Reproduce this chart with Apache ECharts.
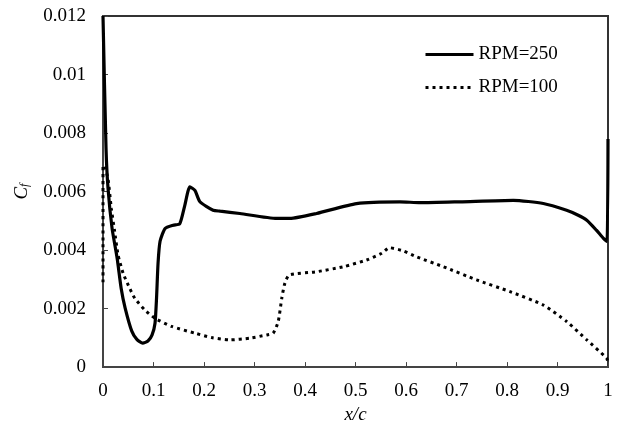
<!DOCTYPE html>
<html>
<head>
<meta charset="utf-8">
<script src="https://cdn.jsdelivr.net/npm/echarts@6/dist/echarts.min.js"></script>
<style>
html,body{margin:0;padding:0;background:#fff;}
#chart{width:619px;height:429px;}
</style>
</head>
<body>
<div id="chart"></div>
<script>
// Data (x/c, Cf)
const rpm250X = [0, 0.006, 0.010, 0.018, 0.028, 0.036, 0.044, 0.057, 0.067, 0.0786, 0.089, 0.097, 0.103, 0.106, 0.109, 0.113, 0.123, 0.139, 0.152, 0.162, 0.172, 0.182, 0.192, 0.218, 0.232, 0.271, 0.344, 0.370, 0.423, 0.502, 0.588, 0.628, 0.707, 0.8125, 0.872, 0.918, 0.940, 0.958, 0.977, 0.991, 0.998, 1.0];
const rpm250Y = [0.012, 0.00747, 0.0061, 0.00474, 0.00372, 0.00269, 0.00201, 0.00123, 0.00095, 0.00082, 0.00089, 0.00109, 0.0015, 0.00235, 0.00355, 0.0043, 0.00474, 0.00485, 0.0049, 0.00553, 0.00616, 0.00604, 0.00565, 0.00536, 0.00533, 0.00525, 0.00508, 0.00508, 0.00525, 0.00559, 0.00565, 0.00562, 0.00565, 0.0057, 0.00559, 0.00536, 0.0052, 0.00502, 0.00468, 0.0044, 0.0043, 0.0078];
const rpm100X = [0, 0, 0.004, 0.0099, 0.0165, 0.023, 0.030, 0.040, 0.050, 0.063, 0.083, 0.103, 0.136, 0.182, 0.215, 0.251, 0.291, 0.324, 0.337, 0.347, 0.354, 0.360, 0.369, 0.423, 0.476, 0.522, 0.552, 0.567, 0.595, 0.621, 0.674, 0.740, 0.806, 0.872, 0.918, 0.958, 0.997, 1.0];
const rpm100Y = [0.0029, 0.0069, 0.0068, 0.00644, 0.00542, 0.00464, 0.00382, 0.0032, 0.0028, 0.00235, 0.00195, 0.00167, 0.00139, 0.00116, 0.00101, 0.00093, 0.00099, 0.0011, 0.00116, 0.00156, 0.00235, 0.00286, 0.00315, 0.00326, 0.00343, 0.00366, 0.00389, 0.00408, 0.00397, 0.00377, 0.00343, 0.00298, 0.00258, 0.00212, 0.00156, 0.00093, 0.00031, 0.00017];
const seriesNames = ['RPM=250', 'RPM=100'];
const xTicks = { min: 0, max: 1, interval: 0.1 };
const yTicks = { min: 0, max: 0.012, interval: 0.002 };

const zip = (xs, ys) => xs.map((x, i) => [x, ys[i]]);
const FONT = '"Liberation Serif", "Times New Roman", serif';
const chart = echarts.init(document.getElementById('chart'), null, { renderer: 'canvas' });
chart.setOption({
  animation: false,
  backgroundColor: '#fff',
  grid: { left: 103, right: 11, top: 16, bottom: 60, show: true, borderColor: '#333', borderWidth: 2, backgroundColor: 'transparent' },
  legend: {
    orient: 'vertical', left: 419, top: 40, itemWidth: 48, itemHeight: 14, itemGap: 14,
    itemStyle: { opacity: 0 },
    lineStyle: { width: 3 },
    textStyle: { fontFamily: FONT, fontSize: 19, color: '#000' },
    data: seriesNames
  },
  xAxis: {
    type: 'value', min: xTicks.min, max: xTicks.max, interval: xTicks.interval,
    axisLine: { lineStyle: { color: '#444', width: 2 } },
    axisTick: { inside: true, length: 5, lineStyle: { color: '#444', width: 1 } },
    axisLabel: { fontFamily: FONT, fontSize: 19, color: '#000', margin: 14 },
    splitLine: { show: false },
    name: 'x/c', nameLocation: 'middle', nameGap: 31,
    nameTextStyle: { fontFamily: FONT, fontSize: 19, fontStyle: 'italic', color: '#000' }
  },
  yAxis: {
    type: 'value', min: yTicks.min, max: yTicks.max, interval: yTicks.interval,
    axisLine: { show: true, lineStyle: { color: '#444', width: 2 } },
    axisTick: { show: true, inside: true, length: 5, lineStyle: { color: '#444', width: 1 } },
    axisLabel: { fontFamily: FONT, fontSize: 19, color: '#000', margin: 17 },
    splitLine: { show: false },
    name: '{c|C}{f|f}', nameLocation: 'middle', nameGap: 72, nameRotate: 90,
    nameTextStyle: {
      fontFamily: FONT, color: '#000',
      rich: {
        c: { fontFamily: FONT, fontSize: 19, fontStyle: 'italic', color: '#000' },
        f: { fontFamily: FONT, fontSize: 12, fontStyle: 'italic', color: '#000', verticalAlign: 'bottom', padding: [7, 0, 0, 0] }
      }
    }
  },
  series: [
    {
      name: seriesNames[0], type: 'line', data: zip(rpm250X, rpm250Y),
      showSymbol: false, symbol: 'none', smooth: 0.2,
      lineStyle: { color: '#000', width: 3.2 }, itemStyle: { color: '#000' }
    },
    {
      name: seriesNames[1], type: 'line', data: zip(rpm100X, rpm100Y),
      showSymbol: false, symbol: 'none', smooth: 0.2,
      lineStyle: { color: '#000', width: 3, type: [3, 4] }, itemStyle: { color: '#000' }
    }
  ]
});
</script>
</body>
</html>
